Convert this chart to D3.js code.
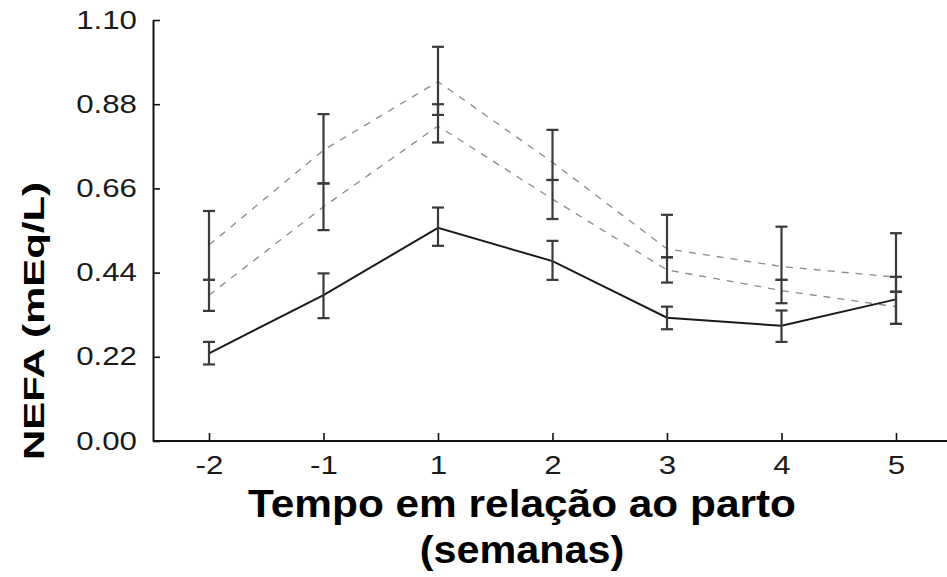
<!DOCTYPE html>
<html>
<head>
<meta charset="utf-8">
<script src="https://cdn.jsdelivr.net/npm/d3@7"></script>
<style>
  html, body { margin: 0; padding: 0; background: #fff; }
  svg { display: block; }
  text { font-family: "Liberation Sans", Arial, Helvetica, sans-serif; }
</style>
</head>
<body>
<svg id="chart" width="947" height="577"></svg>
<script>
// ---- data ----
const weeks = ["-2", "-1", "1", "2", "3", "4", "5"];
const yTicks = [0, 0.22, 0.44, 0.66, 0.88, 1.10];

// solid series
const solidMean = [0.229, 0.381, 0.557, 0.470, 0.322, 0.301, 0.370];
const solidLo   = [0.200, 0.321, 0.510, 0.421, 0.292, 0.259, 0.306];
const solidHi   = [0.259, 0.438, 0.610, 0.523, 0.351, 0.341, 0.429];

// upper dashed series
const upperMean = [0.512, 0.760, 0.939, 0.728, 0.502, 0.456, 0.428];
const upperLo   = [0.421, 0.673, 0.852, 0.682, 0.480, 0.421, 0.390];
const upperHi   = [0.601, 0.854, 1.030, 0.813, 0.591, 0.560, 0.543];

// lower dashed series
const lowerMean = [0.381, 0.612, 0.823, 0.632, 0.447, 0.393, 0.351];
const lowerLo   = [0.340, 0.551, 0.780, 0.580, 0.414, 0.360, 0.306];
const lowerHi   = [0.421, 0.673, 0.880, 0.682, 0.480, 0.421, 0.390];

const xTitle1 = "Tempo em relação ao parto";
const xTitle2 = "(semanas)";
const yTitle = "NEFA (mEq/L)";

// ---- layout ----
const svg = d3.select("#chart");
const plotLeft = 153, plotRight = 947, plotTop = 20, plotBottom = 441;

const x = d3.scalePoint().domain(weeks).range([209, 896]).padding(0);
const y = d3.scaleLinear().domain([0, 1.10]).range([plotBottom, plotTop]);

const series = [
  { mean: upperMean, lo: upperLo, hi: upperHi, dash: "7,7", color: "#8a8a8a", w: 1.3 },
  { mean: lowerMean, lo: lowerLo, hi: lowerHi, dash: "7,7", color: "#8a8a8a", w: 1.3 },
  { mean: solidMean, lo: solidLo, hi: solidHi, dash: null, color: "#1a1a1a", w: 2 }
];

const line = d3.line().x((d, i) => x(weeks[i])).y(d => y(d));

// lines
series.forEach(s => {
  svg.append("path")
    .attr("d", line(s.mean))
    .attr("fill", "none")
    .attr("stroke", s.color)
    .attr("stroke-width", s.w)
    .attr("stroke-dasharray", s.dash);
});

// error bars
const capW = 6;
series.forEach(s => {
  const g = svg.append("g").attr("stroke", "#3a3a3a").attr("stroke-width", 2.2).attr("fill", "none");
  weeks.forEach((wk, i) => {
    const cx = x(wk);
    g.append("line").attr("x1", cx).attr("x2", cx).attr("y1", y(s.lo[i])).attr("y2", y(s.hi[i]));
    g.append("line").attr("x1", cx - capW).attr("x2", cx + capW).attr("y1", y(s.lo[i])).attr("y2", y(s.lo[i]));
    g.append("line").attr("x1", cx - capW).attr("x2", cx + capW).attr("y1", y(s.hi[i])).attr("y2", y(s.hi[i]));
  });
});

// axes
const stretch = 1.25;
function stretchText(sel, factor) {
  sel.each(function () {
    const len = this.getComputedTextLength();
    d3.select(this).attr("textLength", len * factor).attr("lengthAdjust", "spacingAndGlyphs");
  });
}

const yAxis = svg.append("g")
  .attr("transform", `translate(${plotLeft},0)`)
  .call(d3.axisLeft(y).tickValues(yTicks).tickFormat(d3.format(".2f"))
        .tickSizeInner(-7).tickSizeOuter(0).tickPadding(16));

const xAxis = svg.append("g")
  .attr("transform", `translate(0,${plotBottom})`)
  .call(d3.axisBottom(x).tickSizeInner(-8).tickSizeOuter(0).tickPadding(15));

[yAxis, xAxis].forEach(a => {
  a.select(".domain").attr("stroke", "#111").attr("stroke-width", 2);
  a.selectAll(".tick line").attr("stroke", "#111").attr("stroke-width", 1.6);
  a.selectAll(".tick text").attr("font-size", 25).attr("fill", "#1a1a1a")
    .attr("font-family", "'Liberation Sans', Arial, sans-serif");
});
// x axis line extends from the y axis to the right edge
xAxis.select(".domain").attr("d", `M${plotLeft},0H${plotRight}`);
stretchText(yAxis.selectAll(".tick text"), stretch);
stretchText(xAxis.selectAll(".tick text"), stretch);

// titles
const t1 = svg.append("text")
  .attr("x", 522).attr("y", 517)
  .attr("text-anchor", "middle")
  .attr("font-size", 39).attr("font-weight", "bold").attr("fill", "#000")
  .text(xTitle1);
t1.attr("textLength", 548).attr("lengthAdjust", "spacingAndGlyphs");

svg.append("text")
  .attr("x", 522).attr("y", 563)
  .attr("text-anchor", "middle")
  .attr("font-size", 39).attr("font-weight", "bold").attr("fill", "#000")
  .text(xTitle2)
  .call(sel => stretchText(sel, 1.06));

svg.append("text")
  .attr("transform", "translate(44,321) rotate(-90)")
  .attr("text-anchor", "middle")
  .attr("font-size", 30).attr("font-weight", "bold").attr("fill", "#000")
  .attr("textLength", 278).attr("lengthAdjust", "spacingAndGlyphs")
  .text(yTitle);
</script>
</body>
</html>
